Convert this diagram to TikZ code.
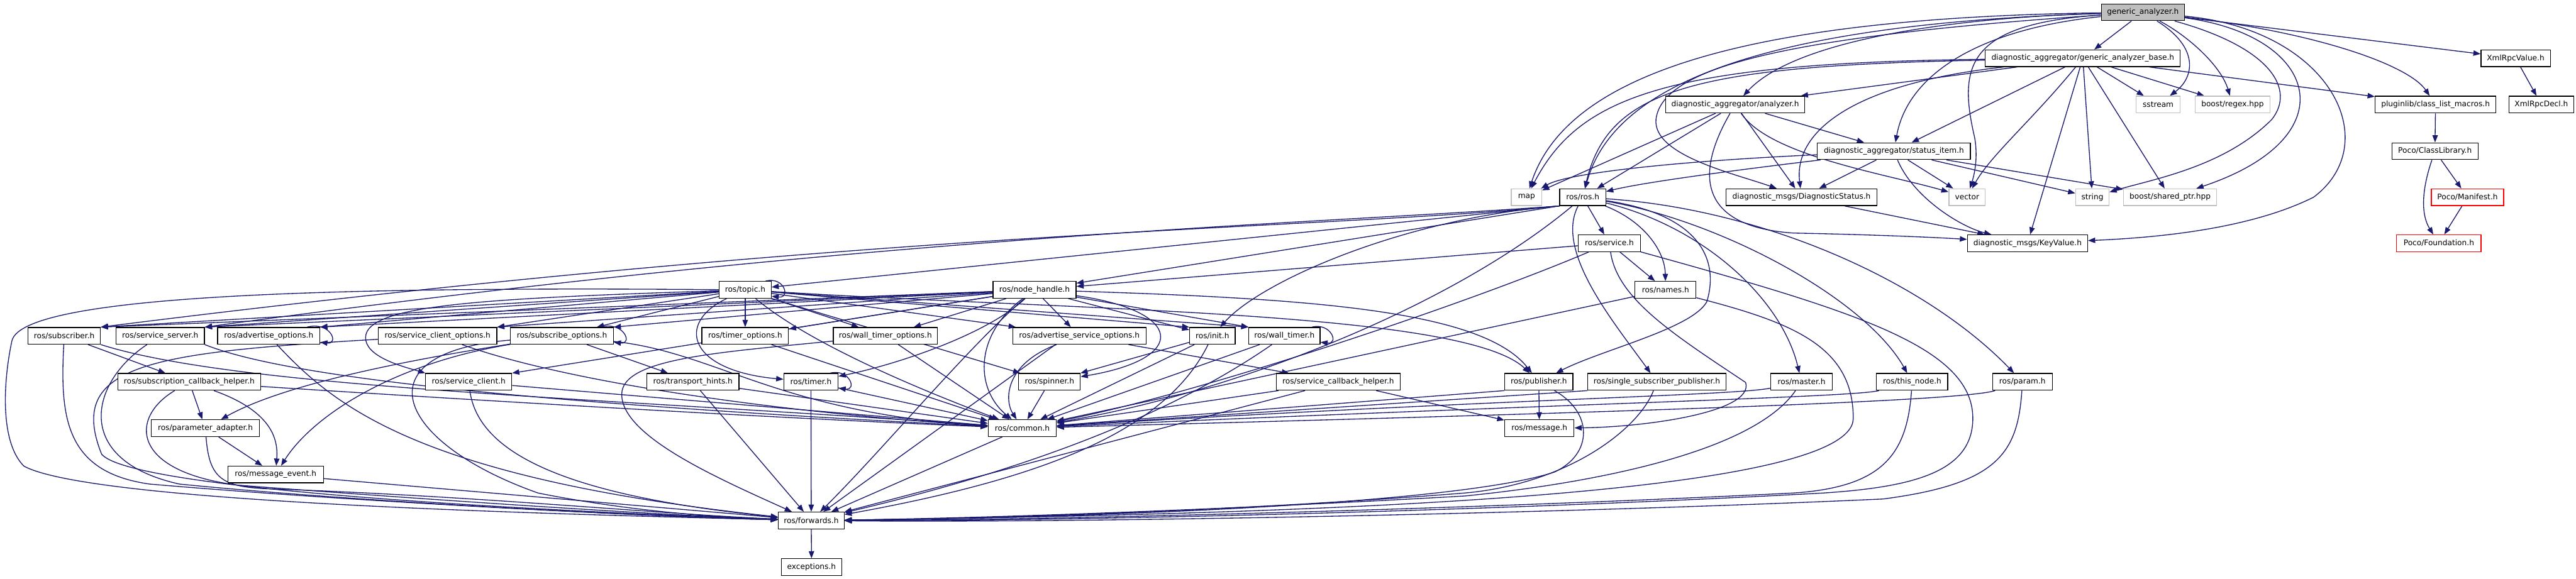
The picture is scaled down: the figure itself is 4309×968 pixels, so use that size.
\documentclass[tikz,border=0pt]{standalone}
\usepackage{fontspec}
\setmainfont{DejaVu Sans}
\usetikzlibrary{arrows.meta}
\definecolor{edgec}{HTML}{191970}
\definecolor{grayb}{HTML}{BFBFBF}
\pgfdeclarelayer{bg}
\pgfdeclarelayer{edgelayer}
\pgfsetlayers{bg,edgelayer,main}
\begin{document}
\begin{tikzpicture}[x=1pt,y=-1pt,
  box/.style={draw=black, line width=1.3pt, fill=white, minimum height=28pt, inner sep=0pt, font=\fontsize{12.8pt}{15pt}\selectfont, text=black},
  gbox/.style={box, draw=grayb},
  rbox/.style={box, draw=red},
  edg/.style={draw=edgec, line width=1.4pt, -{Triangle[length=12pt,width=9pt]}}]
\useasboundingbox (0,0) rectangle (4309,968);
\begin{pgfonlayer}{bg}
\fill[white] (0,0) rectangle (4309,968);
\end{pgfonlayer}
% nodes
\node[box, fill=grayb, minimum width=139pt] (GA) at (3584.5,20.5) {generic\_analyzer.h};
\node[box, minimum width=326pt] (GAB) at (3484,97.5) {diagnostic\_aggregator/generic\_analyzer\_base.h};
\node[box, minimum width=116pt] (XRV) at (4208,97.5) {XmlRpcValue.h};
\node[box, minimum width=233pt] (ANA) at (2902.5,175) {diagnostic\_aggregator/analyzer.h};
\node[gbox, minimum width=74pt] (SSTR) at (3610,175) {sstream};
\node[gbox, minimum width=125pt] (REGEX) at (3734.5,175) {boost/regex.hpp};
\node[box, minimum width=202pt] (PCLM) at (4074,175) {pluginlib/class\_list\_macros.h};
\node[box, minimum width=108pt] (XRD) at (4251,175) {XmlRpcDecl.h};
\node[box, minimum width=256pt] (SI) at (3168,253) {diagnostic\_aggregator/status\_item.h};
\node[box, minimum width=144pt] (PCL) at (4073,253) {Poco/ClassLibrary.h};
\node[gbox, minimum width=51pt] (MAP) at (2553.5,330) {map};
\node[box, minimum width=77pt] (ROS) at (2647.5,330) {ros/ros.h};
\node[box, minimum width=253pt] (DS) at (3013.5,330) {diagnostic\_msgs/DiagnosticStatus.h};
\node[gbox, minimum width=61pt] (VEC) at (3290.5,330) {vector};
\node[gbox, minimum width=56pt] (STR) at (3500,330) {string};
\node[gbox, minimum width=156pt] (SP) at (3630,330) {boost/shared\_ptr.hpp};
\node[rbox, minimum width=121pt] (PM) at (4127.5,330) {Poco/Manifest.h};
\node[box, minimum width=104pt] (SRV) at (2692,407) {ros/service.h};
\node[box, minimum width=201pt] (KV) at (3391.5,407) {diagnostic\_msgs/KeyValue.h};
\node[rbox, minimum width=141pt] (PF) at (4079.5,407) {Poco/Foundation.h};
\node[box, minimum width=87pt] (TOPIC) at (1246.5,485) {ros/topic.h};
\node[box, minimum width=139pt] (NH) at (1730.5,485) {ros/node\_handle.h};
\node[box, minimum width=102pt] (NAMES) at (2786,485) {ros/names.h};
\node[box, minimum width=121pt] (SUB) at (107.5,562) {ros/subscriber.h};
\node[box, minimum width=148pt] (SS) at (268,562) {ros/service\_server.h};
\node[box, minimum width=171pt] (AO) at (449.5,562) {ros/advertise\_options.h};
\node[box, minimum width=198pt] (SCO) at (732,562) {ros/service\_client\_options.h};
\node[box, minimum width=172pt] (SO) at (940,562) {ros/subscribe\_options.h};
\node[box, minimum width=145pt] (TO) at (1246.5,562) {ros/timer\_options.h};
\node[box, minimum width=174pt] (WTO) at (1481,562) {ros/wall\_timer\_options.h};
\node[box, minimum width=223pt] (ASO) at (1805.5,562) {ros/advertise\_service\_options.h};
\node[box, minimum width=76pt] (INIT) at (2028,562) {ros/init.h};
\node[box, minimum width=119pt] (WT) at (2148.5,562) {ros/wall\_timer.h};
\node[box, minimum width=239pt] (SCH) at (316.5,639) {ros/subscription\_callback\_helper.h};
\node[box, minimum width=144pt] (SC) at (784,639) {ros/service\_client.h};
\node[box, minimum width=154pt] (TH) at (1159,639) {ros/transport\_hints.h};
\node[box, minimum width=91pt] (TIMER) at (1356.5,639) {ros/timer.h};
\node[box, minimum width=103pt] (SPIN) at (1755.5,639) {ros/spinner.h};
\node[box, minimum width=207pt] (SCBH) at (2238.5,639) {ros/service\_callback\_helper.h};
\node[box, minimum width=114pt] (PUB) at (2574,639) {ros/publisher.h};
\node[box, minimum width=231pt] (SSP) at (2771.5,639) {ros/single\_subscriber\_publisher.h};
\node[box, minimum width=103pt] (MASTER) at (3013.5,639) {ros/master.h};
\node[box, minimum width=119pt] (TN) at (3198.5,639) {ros/this\_node.h};
\node[box, minimum width=100pt] (PARAM) at (3383,639) {ros/param.h};
\node[box, minimum width=181pt] (PA) at (343.5,716.5) {ros/parameter\_adapter.h};
\node[box, minimum width=114pt] (COMMON) at (1710,716.5) {ros/common.h};
\node[box, minimum width=116pt] (MSG) at (2575,716.5) {ros/message.h};
\node[box, minimum width=160pt] (ME) at (461,794) {ros/message\_event.h};
\node[box, minimum width=110pt] (FWD) at (1357,871) {ros/forwards.h};
\node[box, minimum width=101pt] (EXC) at (1357.5,949) {exceptions.h};
\begin{pgfonlayer}{edgelayer}
% generic_analyzer.h
\draw[edg] (GA) -- (GAB);
\draw[edg] (GA) -- (XRV);
\draw[edg] (GA) .. controls (3880,55) and (4030,110) .. (PCLM);
\draw[edg] (GA) .. controls (3660,60) and (3715,110) .. (REGEX);
\draw[edg] (GA) .. controls (3680,80) and (3670,130) .. (SSTR);
\draw[edg] (GA) .. controls (3800,80) and (3840,150) .. (3800,200) .. controls (3720,280) and (3600,300) .. (STR);
\draw[edg] (GA) .. controls (3880,60) and (3930,230) .. (SP);
\draw[edg] (GA) .. controls (3900,50) and (3990,240) .. (3870,330) .. controls (3760,385) and (3600,398) .. (KV);
\draw[edg] (GA) .. controls (3300,50) and (3190,130) .. (SI);
\draw[edg] (GA) .. controls (3290,40) and (3275,110) .. (3303,230) .. controls (3310,270) and (3300,300) .. (VEC);
\draw[edg] (GA) .. controls (3250,30) and (3000,70) .. (ANA);
\draw[edg] (GA) .. controls (2950,40) and (2700,140) .. (ROS);
\draw[edg] (GA) .. controls (2900,30) and (2620,130) .. (MAP);
\draw[edg] (GA) .. controls (3000,60) and (2780,110) .. (2770,200) .. controls (2765,260) and (2900,290) .. (DS);
% generic_analyzer_base.h
\draw[edg] (GAB) -- (ANA);
\draw[edg] (GAB) .. controls (2780,105) and (2640,165) .. (MAP);
\draw[edg] (GAB) .. controls (2830,110) and (2690,150) .. (ROS);
\draw[edg] (GAB) -- (SI);
\draw[edg] (GAB) .. controls (3100,140) and (3000,220) .. (DS);
\draw[edg] (GAB) .. controls (3400,200) and (3330,260) .. (VEC);
\draw[edg] (GAB) -- (KV);
\draw[edg] (GAB) -- (STR);
\draw[edg] (GAB) -- (SP);
\draw[edg] (GAB) -- (SSTR);
\draw[edg] (GAB) -- (REGEX);
\draw[edg] (GAB) -- (PCLM);
% analyzer.h
\draw[edg] (ANA) -- (MAP);
\draw[edg] (ANA) -- (ROS);
\draw[edg] (ANA) -- (DS);
\draw[edg] (ANA) -- (SI);
\draw[edg] (ANA) .. controls (2830,300) and (2850,380) .. (3000,390) .. controls (3150,393) and (3250,398) .. (KV);
\draw[edg] (ANA) .. controls (2960,260) and (3150,290) .. (VEC);
% status_item.h
\draw[edg] (SI) .. controls (2800,270) and (2620,290) .. (MAP);
\draw[edg] (SI) .. controls (2900,285) and (2750,305) .. (ROS);
\draw[edg] (SI) -- (DS);
\draw[edg] (SI) -- (VEC);
\draw[edg] (SI) -- (STR);
\draw[edg] (SI) -- (SP);
\draw[edg] (SI) .. controls (3200,330) and (3280,380) .. (KV);
\draw[edg] (DS) -- (KV);
% right column
\draw[edg] (XRV) -- (XRD);
\draw[edg] (PCLM) -- (PCL);
\draw[edg] (PCL) -- (PM);
\draw[edg] (PCL) .. controls (4050,320) and (4050,360) .. (PF);
\draw[edg] (PM) -- (PF);
% ros.h
\draw[edg] (ROS) -- (SRV);
\draw[edg] (ROS) .. controls (2750,370) and (2785,420) .. (NAMES);
\draw[edg] (ROS.south west) -- (TOPIC);
\draw[edg] (ROS.south west) -- (NH);
\draw[edg] (ROS.south west) .. controls (2200,385) and (1500,380) .. (SUB.north east);
\draw[edg] (ROS.south west) .. controls (2200,375) and (1500,390) .. (SS.north east);
\draw[edg] (ROS.south west) .. controls (2350,365) and (2110,470) .. (INIT);
\draw[edg] (ROS) .. controls (2420,520) and (2050,660) .. (COMMON);
\draw[edg] (ROS) .. controls (2850,360) and (2875,440) .. (2855,505) .. controls (2830,550) and (2680,585) .. (PUB);
\draw[edg] (ROS) .. controls (2600,420) and (2700,540) .. (SSP);
\draw[edg] (ROS) .. controls (2850,380) and (2980,500) .. (MASTER);
\draw[edg] (ROS) .. controls (2880,370) and (3120,500) .. (TN);
\draw[edg] (ROS) .. controls (2950,350) and (3220,470) .. (PARAM);
% service.h
\draw[edg] (SRV) -- (NH);
\draw[edg] (SRV) .. controls (2450,510) and (2000,660) .. (COMMON);
\draw[edg] (SRV) -- (NAMES);
\draw[edg] (SRV) .. controls (2705,500) and (2800,560) .. (2920,640) .. controls (2935,690) and (2750,715) .. (MSG);
\draw[edg] (SRV) .. controls (3100,520) and (3300,580) .. (3300,700) .. controls (3300,790) and (3200,815) .. (3050,825) .. controls (2500,855) and (1800,872) .. (FWD);
% names.h
\draw[edg] (NAMES) -- (COMMON);
\draw[edg] (NAMES) .. controls (3000,540) and (3100,580) .. (3100,700) .. controls (3100,830) and (2200,860) .. (FWD);
% publisher etc.
\draw[edg] (PUB) -- (MSG);
\draw[edg] (PUB.south west) -- (COMMON);
\draw[edg] (PUB) .. controls (2665,690) and (2665,760) .. (2600,790) .. controls (2450,840) and (1900,865) .. (FWD);
\draw[edg] (SSP.south west) -- (COMMON);
\draw[edg] (SSP) .. controls (2740,720) and (2620,810) .. (2450,825) .. controls (2200,845) and (1800,866) .. (FWD);
\draw[edg] (MASTER) .. controls (2900,662) and (2500,668) .. (COMMON);
\draw[edg] (MASTER) .. controls (2930,760) and (2650,810) .. (2450,830) .. controls (2100,850) and (1700,866) .. (FWD);
\draw[edg] (TN) .. controls (3100,665) and (2600,676) .. (COMMON);
\draw[edg] (TN) .. controls (3190,760) and (3150,815) .. (3000,825) .. controls (2500,850) and (1800,870) .. (FWD);
\draw[edg] (PARAM) .. controls (3280,672) and (2700,690) .. (COMMON);
\draw[edg] (PARAM) .. controls (3375,760) and (3340,810) .. (3150,835) .. controls (2600,860) and (1800,875) .. (FWD);
% service_callback_helper, wall_timer, init
\draw[edg] (SCBH) -- (MSG);
\draw[edg] (SCBH) -- (COMMON);
\draw[edg] (SCBH) -- (FWD);
\draw[edg] (WT) -- (COMMON);
\draw[edg] (WT) .. controls (1950,700) and (1700,790) .. (FWD);
\draw[edg] ([xshift=-14pt]WT.north east) .. controls +(32,-8) and +(32,4) .. ([yshift=4pt]WT.south east);
\draw[edg] (INIT) -- (SPIN);
\draw[edg] (INIT) -- (COMMON);
\draw[edg] (INIT) .. controls (1950,720) and (1750,800) .. (FWD);
% advertise_service_options etc.
\draw[edg] (ASO) -- (SCBH);
\draw[edg] (ASO) .. controls (1680,610) and (1680,670) .. (COMMON);
\draw[edg] ([xshift=-40pt]ASO.south) -- (FWD);
\draw[edg] (SPIN) -- (COMMON);
\draw[edg] (TIMER) -- (COMMON);
\draw[edg] (TIMER) -- (FWD);
\draw[edg] ([xshift=-14pt]TIMER.north east) .. controls +(32,-8) and +(32,4) .. ([yshift=4pt]TIMER.south east);
\draw[edg] (TH) -- (COMMON);
\draw[edg] (TH) -- (FWD);
\draw[edg] (TO) -- (COMMON);
\draw[edg] (WTO) -- (COMMON);
\draw[edg] (WTO) .. controls (1200,590) and (1040,600) .. (1040,660) .. controls (1040,730) and (1200,800) .. (FWD);
% node_handle.h
\draw[edg] (NH) -- (SUB.north east);
\draw[edg] (NH) -- (SS.north east);
\draw[edg] (NH) -- (AO.north east);
\draw[edg] (NH) -- (SCO.north east);
\draw[edg] (NH) -- (SO.north east);
\draw[edg] (NH) -- (SC.north east);
\draw[edg] (NH) -- (TO);
\draw[edg] (NH) -- (WTO);
\draw[edg] (NH) .. controls (1650,560) and (1500,610) .. (TIMER);
\draw[edg] (NH) -- (ASO);
\draw[edg] (NH) .. controls (1980,520) and (1990,600) .. (SPIN);
\draw[edg] (NH) -- (INIT);
\draw[edg] (NH) -- (WT.north west);
\draw[edg] (NH) .. controls (2200,500) and (2480,520) .. (PUB);
\draw[edg] (NH) .. controls (1630,560) and (1630,650) .. (COMMON);
\draw[edg] (NH) .. controls (1620,580) and (1470,760) .. (FWD);
% topic.h
\draw[edg] (TOPIC) -- (SUB.north east);
\draw[edg] (TOPIC) -- (SS.north east);
\draw[edg] (TOPIC) -- (AO.north east);
\draw[edg] (TOPIC) -- (SCO.north east);
\draw[edg] (TOPIC) -- (SO);
\draw[edg] (TOPIC) .. controls (800,500) and (600,510) .. (612,570) .. controls (618,600) and (680,615) .. (SC.north west);
\draw[edg] (TOPIC) -- (TO);
\draw[edg] (TOPIC) -- (WTO);
\draw[edg] (TOPIC) .. controls (1130,540) and (1150,620) .. (TIMER);
\draw[edg] (TOPIC) -- (ASO);
\draw[edg] (TOPIC.south east) -- (SPIN);
\draw[edg] (TOPIC) -- (INIT.north west);
\draw[edg] (TOPIC) -- (WT.north west);
\draw[edg] (TOPIC) .. controls (1800,520) and (2450,520) .. (PUB);
\draw[edg] (TOPIC) .. controls (1360,580) and (1560,660) .. (COMMON);
\draw[edg] (TOPIC) .. controls (600,480) and (40,490) .. (20,570) .. controls (5,640) and (0,740) .. (40,780) .. controls (150,840) and (900,860) .. (FWD);
\draw[edg] ([xshift=-10pt]TOPIC.north east) .. controls +(32,-8) and +(32,4) .. ([yshift=4pt]TOPIC.south east);
% left group
\draw[edg] (SUB) -- (SCH);
\draw[edg] (SUB.south east) .. controls (400,650) and (1000,665) .. (COMMON);
\draw[edg] (SUB) .. controls (100,700) and (110,790) .. (250,810) .. controls (600,840) and (1100,865) .. (FWD);
\draw[edg] (SS.south east) .. controls (500,640) and (1000,680) .. (COMMON);
\draw[edg] (SS) .. controls (150,640) and (120,770) .. (300,810) .. controls (600,840) and (1100,865) .. (FWD);
\draw[edg] (AO) .. controls (560,680) and (700,800) .. (FWD);
\draw[edg] ([xshift=-22pt]AO.north east) .. controls +(40,-10) and +(32,4) .. ([yshift=4pt]AO.south east);
\draw[edg] (SCO) .. controls (950,640) and (1300,690) .. (COMMON);
\draw[edg] (SCO) .. controls (250,590) and (110,610) .. (170,760) .. controls (220,820) and (900,855) .. (FWD);
\draw[edg] (SO) -- (TH);
\draw[edg] (SO) .. controls (700,600) and (480,640) .. (PA);
\draw[edg] (SO) .. controls (650,610) and (520,700) .. (ME);
\draw[edg] (SO) .. controls (1200,590) and (1300,690) .. (COMMON);
\draw[edg] (SO) .. controls (600,590) and (660,740) .. (900,825) .. controls (1050,855) and (1200,866) .. (FWD);
\draw[edg] ([xshift=-22pt]SO.north east) .. controls +(40,-10) and +(32,4) .. ([yshift=4pt]SO.south east);
\draw[edg] (SC) -- (COMMON);
\draw[edg] (SC) .. controls (800,760) and (950,830) .. (FWD);
\draw[edg] (SCH) -- (PA);
\draw[edg] (SCH) .. controls (460,690) and (465,740) .. (ME);
\draw[edg] (SCH) .. controls (800,670) and (1300,700) .. (COMMON);
\draw[edg] (SCH) .. controls (215,700) and (220,790) .. (400,812) .. controls (700,835) and (1100,862) .. (FWD);
\draw[edg] (PA) -- (ME);
\draw[edg] (PA) .. controls (350,800) and (370,815) .. (450,818) .. controls (800,830) and (1100,860) .. (FWD);
\draw[edg] (ME) -- (FWD);
\draw[edg] (COMMON) -- (FWD);
\draw[edg] (FWD) -- (EXC);
\end{pgfonlayer}
\end{tikzpicture}
\end{document}
